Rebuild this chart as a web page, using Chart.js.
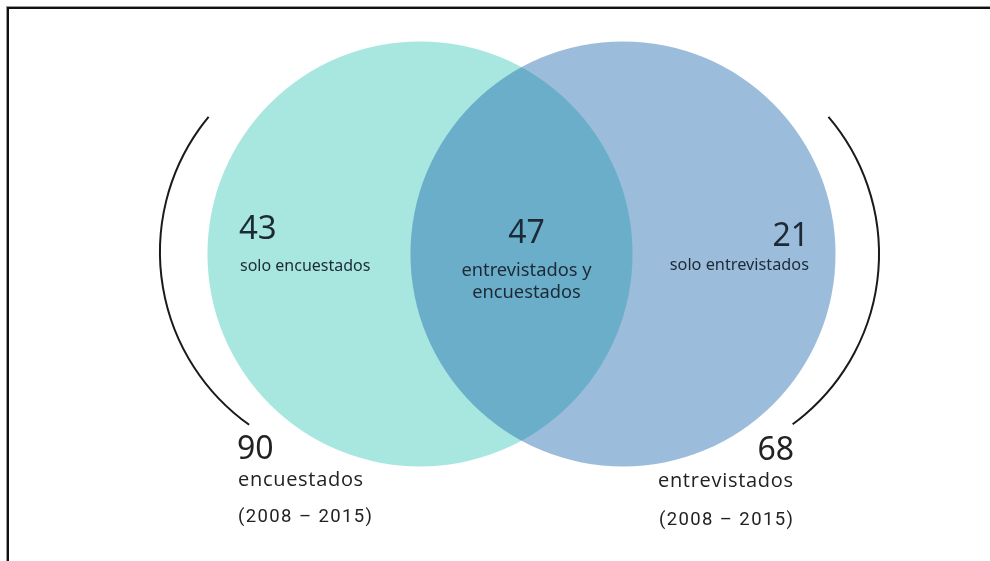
<!DOCTYPE html>
<html>
<head>
<meta charset="utf-8">
<script src="https://cdn.jsdelivr.net/npm/chart.js@4"></script>
<style>
  html, body { margin: 0; padding: 0; background: #fff; overflow: hidden; }
  #wrap { position: relative; width: 990px; height: 561px; }
  #frame { position: absolute; left: 7px; top: 7px; width: 1000px; height: 600px;
           border-left: 2px solid #111; border-top: 2px solid #111;
           box-shadow: -1px -1px 0 #999; pointer-events: none; }
  canvas { position: absolute; left: 0; top: 0; }
</style>
</head>
<body>
<div id="wrap">
  <canvas id="venn" width="990" height="561"></canvas>
  <div id="frame"></div>
</div>
<script>
// sets (circles)
const setNames = ['encuestados', 'entrevistados'];
const setTotals = [90, 68];
const setPeriods = ['(2008 – 2015)', '(2008 – 2015)'];
const setCenterX = [-1, 1];
const setCenterY = [0, 0];
const setRadius = [2.094, 2.094];

// regions of the diagram
const regionLabels = [['solo encuestados'], ['entrevistados y', 'encuestados'], ['solo entrevistados']];
const regionValues = [43, 47, 21];

const fillColors = ['rgb(168, 230, 224)', 'rgba(33, 107, 176, 0.45)'];
const inkColor = '#1c2a36';

function px(chart, x, y) {
  return { x: chart.scales.x.getPixelForValue(x), y: chart.scales.y.getPixelForValue(y) };
}

function radiusPx(chart, r) {
  const xs = chart.scales.x;
  return xs.getPixelForValue(r) - xs.getPixelForValue(0);
}

function drawText(ctx, text, x, y, font, align, color, spacing) {
  ctx.font = font;
  ctx.letterSpacing = (spacing || 0) + 'px';
  ctx.textAlign = align;
  ctx.textBaseline = 'alphabetic';
  ctx.fillStyle = color;
  // trailing letter spacing would push right-aligned text left
  if (align === 'right' && spacing) x += spacing;
  ctx.fillText(text, x, y);
  ctx.letterSpacing = '0px';
}

const vennLabels = {
  id: 'vennLabels',
  afterDatasetsDraw(chart) {
    const ctx = chart.ctx;
    const left = px(chart, setCenterX[0], setCenterY[0]);
    const right = px(chart, setCenterX[1], setCenterY[1]);
    const mid = px(chart, (setCenterX[0] + setCenterX[1]) / 2, setCenterY[0]);
    const rL = radiusPx(chart, setRadius[0]);
    const rR = radiusPx(chart, setRadius[1]);
    ctx.save();

    // brackets around each set
    ctx.strokeStyle = '#1a1a1a';
    ctx.lineWidth = 2;
    ctx.beginPath();
    ctx.arc(left.x - 48, left.y - 2, rL - 0.5, 125.4 * Math.PI / 180, 219.6 * Math.PI / 180);
    ctx.stroke();
    ctx.beginPath();
    ctx.arc(right.x + 45, right.y, rR - 1.5, -40.5 * Math.PI / 180, 53.8 * Math.PI / 180);
    ctx.stroke();

    const big = '32px "Noto Sans"';
    // left only
    drawText(ctx, String(regionValues[0]), left.x - 181, left.y - 15, '33px "Noto Sans"', 'left', inkColor);
    drawText(ctx, regionLabels[0][0], left.x - 180, left.y + 17, '16px "Noto Sans"', 'left', inkColor);
    // overlap
    drawText(ctx, String(regionValues[1]), mid.x + 5, mid.y - 11, big, 'center', inkColor);
    drawText(ctx, regionLabels[1][0], mid.x + 5, mid.y + 22, '18.3px "Noto Sans"', 'center', inkColor);
    drawText(ctx, regionLabels[1][1], mid.x + 5, mid.y + 44, '18.3px "Noto Sans"', 'center', inkColor);
    // right only
    drawText(ctx, String(regionValues[2]), right.x + 186, right.y - 8, big, 'right', inkColor);
    drawText(ctx, regionLabels[2][0], right.x + 186, right.y + 16, '16.3px "Noto Sans"', 'right', inkColor);

    // totals under the brackets
    const outer = '#222';
    drawText(ctx, String(setTotals[0]), left.x - 183, left.y + 205, big, 'left', outer);
    drawText(ctx, setNames[0], left.x - 182, left.y + 232, '20px "Open Sans"', 'left', outer, 0.7);
    drawText(ctx, setPeriods[0], left.x - 182, left.y + 268, '18.5px Roboto', 'left', outer, 1.4);
    drawText(ctx, String(setTotals[1]), right.x + 171, right.y + 206, big, 'right', outer);
    drawText(ctx, setNames[1], right.x + 170, right.y + 233, '20px "Open Sans"', 'right', outer, 0.7);
    drawText(ctx, setPeriods[1], right.x + 170, right.y + 271, '18.5px Roboto', 'right', outer, 1.4);
    ctx.restore();
  }
};

const datasets = setNames.map((name, i) => ({
  label: name,
  data: [{ x: setCenterX[i], y: setCenterY[i], r: setRadius[i] }],
  backgroundColor: fillColors[i],
  borderWidth: 0,
  pointRadius: c => radiusPx(c.chart, c.raw.r),
  pointHoverRadius: c => radiusPx(c.chart, c.raw.r),
  order: setNames.length - i
}));

new Chart(document.getElementById('venn'), {
  type: 'scatter',
  data: { datasets: datasets },
  options: {
    responsive: false,
    animation: false,
    events: [],
    layout: { padding: 0 },
    clip: false,
    plugins: { legend: { display: false }, tooltip: { enabled: false } },
    scales: {
      x: { type: 'linear', display: false, min: -5.138, max: 4.616 },
      y: { type: 'linear', display: false, min: -3.025, max: 2.502 }
    }
  },
  plugins: [vennLabels]
});
</script>
</body>
</html>
